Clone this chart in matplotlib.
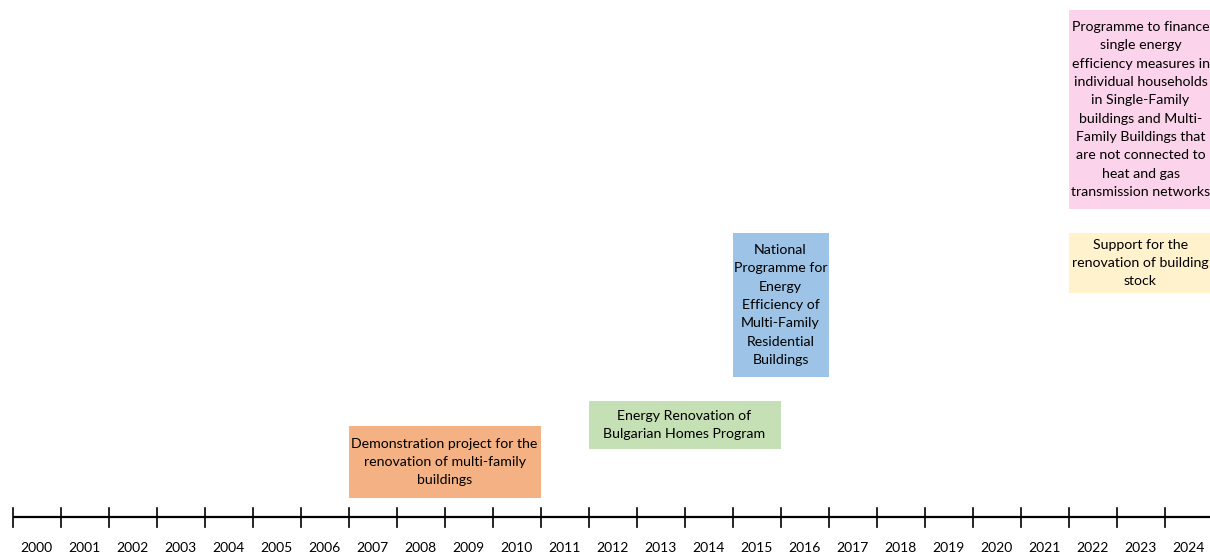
import matplotlib.pyplot as plt
from matplotlib.patches import Rectangle

plt.rcParams['font.family'] = ['Lato', 'DejaVu Sans']

# Data
years = list(range(2000, 2025))
programmes = [
    "Demonstration project for the\nrenovation of multi-family\nbuildings",
    "Energy Renovation of\nBulgarian Homes Program",
    "National\nProgramme for\nEnergy\nEfficiency of\nMulti-Family\nResidential\nBuildings",
    "Programme to finance\nsingle energy\nefficiency measures in\nindividual households\nin Single-Family\nbuildings and Multi-\nFamily Buildings that\nare not connected to\nheat and gas\ntransmission networks",
    "Support for the\nrenovation of building\nstock",
]
start_year = [2007, 2012, 2015, 2022, 2022]
end_year = [2010, 2015, 2016, 2024, 2024]

# Layout only: vertical extent of each box (pixel rows from top)
box_top = [426, 401, 233, 10, 233]
box_bottom = [498, 449, 377, 209, 293]
colors = ['#F4B183', '#C5E0B4', '#9DC3E6', '#FBD3EA', '#FFF2CC']

fig = plt.figure(figsize=(12.1, 5.53), dpi=100)
ax = fig.add_axes([0, 0, 1, 1])
x0 = years[0]
ax.set_xlim(x0 - 12.5 / 48, x0 + (1210 - 12.5) / 48)
ax.set_ylim(553, 0)
ax.axis('off')

# Timeline
axis_y = 517
ax.plot([x0, x0 + 26], [axis_y, axis_y], color='black', lw=1.6, solid_capstyle='butt')
for i in range(len(years)):
    ax.plot([years[i], years[i]], [508, 527], color='black', lw=1.2)
    ax.text(years[i] + 0.5, 548, str(years[i]), ha='center', va='center', fontsize=10)

# Programme boxes
for name, s, e, t, b, c in zip(programmes, start_year, end_year, box_top, box_bottom, colors):
    ax.add_patch(Rectangle((s, t), e + 1 - s, b - t, facecolor=c, edgecolor='none'))
    ax.text((s + e + 1) / 2, (t + b) / 2, name, ha='center', va='center',
            fontsize=10.2, linespacing=1.63)

plt.savefig('out.png', dpi=100)
